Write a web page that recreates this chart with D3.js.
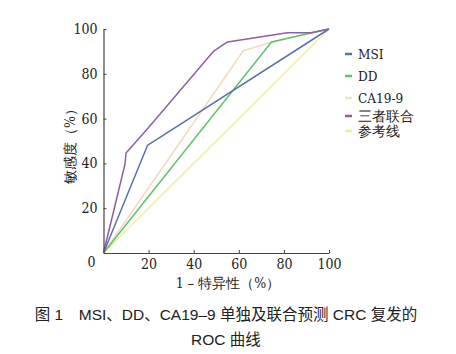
<!DOCTYPE html>
<html>
<head>
<meta charset="utf-8">
<script src="https://cdn.jsdelivr.net/npm/d3@7"></script>
<style>
  body { margin: 0; background: #fff; }
  svg { display: block; }
  .serif { font-family: "DejaVu Serif Condensed", "DejaVu Serif", serif; font-stretch: condensed; }
</style>
</head>
<body>
<script>
// ROC points, x = 1 - specificity (%), y = sensitivity (%)
const msiX = [0, 19.5, 100];
const msiY = [0, 48, 100];
const ddX = [0, 74.5, 90, 100];
const ddY = [0, 94.2, 97.8, 100];
const caX = [0, 62, 74, 100];
const caY = [0, 90.3, 94, 100];
const comboX = [0, 9.5, 10, 20, 48.7, 55, 81.5, 92, 100];
const comboY = [0, 39.5, 44.6, 56, 90, 94.2, 98.3, 98.3, 100];
const refX = [0, 100];
const refY = [0, 100];
const ticks = [0, 20, 40, 60, 80, 100];

const series = [
  { name: "参考线", xs: refX, ys: refY, color: "#f2ef9c", ly: 131 },
  { name: "CA19-9", xs: caX, ys: caY, color: "#efdcc0", ly: 98, legendColor: "#e6e6c6" },
  { name: "DD", xs: ddX, ys: ddY, color: "#62c26c", ly: 76 },
  { name: "MSI", xs: msiX, ys: msiY, color: "#5a72ab", ly: 54 },
  { name: "三者联合", xs: comboX, ys: comboY, color: "#8c60a4", ly: 116 }
];

const W = 456, H = 354;
const x0 = 103.5, x1 = 329, y0 = 253, y1 = 29;

const svg = d3.select("body").append("svg")
    .attr("width", W)
    .attr("height", H);

var x = d3.scaleLinear().domain([0, 100]).range([x0, x1]);
var y = d3.scaleLinear().domain([0, 100]).range([y0, y1]);

const line = d3.line()
    .x(d => x(d[0]))
    .y(d => y(d[1]));

series.forEach(s => {
  svg.append("path")
    .datum(s.xs.map((v, i) => [v, s.ys[i]]))
    .attr("fill", "none")
    .attr("stroke", s.color)
    .attr("stroke-width", 1.5)
    .attr("stroke-linejoin", "round")
    .attr("d", line);
});

// axes, ticks point inward
const xAxis = svg.append("g")
    .attr("transform", `translate(0,${y0})`)
    .call(d3.axisBottom(x).tickValues(ticks.slice(1)).tickSize(-3).tickSizeOuter(0).tickPadding(6));
const yAxis = svg.append("g")
    .attr("transform", `translate(${x0},0)`)
    .call(d3.axisLeft(y).tickValues(ticks.slice(1)).tickSize(-3).tickSizeOuter(0).tickPadding(6));

[xAxis, yAxis].forEach(g => {
  g.attr("font-family", null).attr("font-size", null);
  g.select(".domain").attr("stroke", "#444").attr("stroke-width", 1.2);
  g.selectAll(".tick line").attr("stroke", "#444");
  g.selectAll("text")
    .attr("class", "serif")
    .attr("fill", "#222")
    .attr("font-size", 14);
});

svg.append("text")
    .attr("class", "serif")
    .attr("x", x0 - 8)
    .attr("y", y0 + 14)
    .attr("text-anchor", "end")
    .attr("fill", "#222")
    .attr("font-size", 14)
    .text("0");

// axis titles
svg.append("text")
    .attr("class", "serif")
    .attr("x", 228)
    .attr("y", 288)
    .attr("text-anchor", "middle")
    .attr("fill", "#222")
    .attr("font-size", 14)
    .text("1 – 特异性（%）");

svg.append("text")
    .attr("class", "serif")
    .attr("transform", "translate(75,143) rotate(-90)")
    .attr("text-anchor", "middle")
    .attr("fill", "#222")
    .attr("font-size", 14)
    .text("敏感度（%）");

// legend
const legend = svg.append("g");
series.forEach(s => {
  legend.append("line")
    .attr("x1", 345).attr("x2", 352)
    .attr("y1", s.ly).attr("y2", s.ly)
    .attr("stroke", s.legendColor || s.color)
    .attr("stroke-width", 2.5);
  legend.append("text")
    .attr("class", "serif")
    .attr("x", 358)
    .attr("y", s.ly + 5)
    .attr("fill", "#222")
    .attr("font-size", 13.5)
    .text(s.name);
});

// caption
const caption = ["图 1　MSI、DD、CA19–9 单独及联合预测 CRC 复发的", "ROC 曲线"];
caption.forEach((t, i) => {
  svg.append("text")
    .attr("x", 226)
    .attr("y", 320 + i * 25)
    .attr("text-anchor", "middle")
    .attr("fill", "#222")
    .attr("font-family", "'Liberation Sans', 'Noto Sans CJK SC', sans-serif")
    .attr("font-size", 15.5)
    .text(t);
});
</script>
</body>
</html>
